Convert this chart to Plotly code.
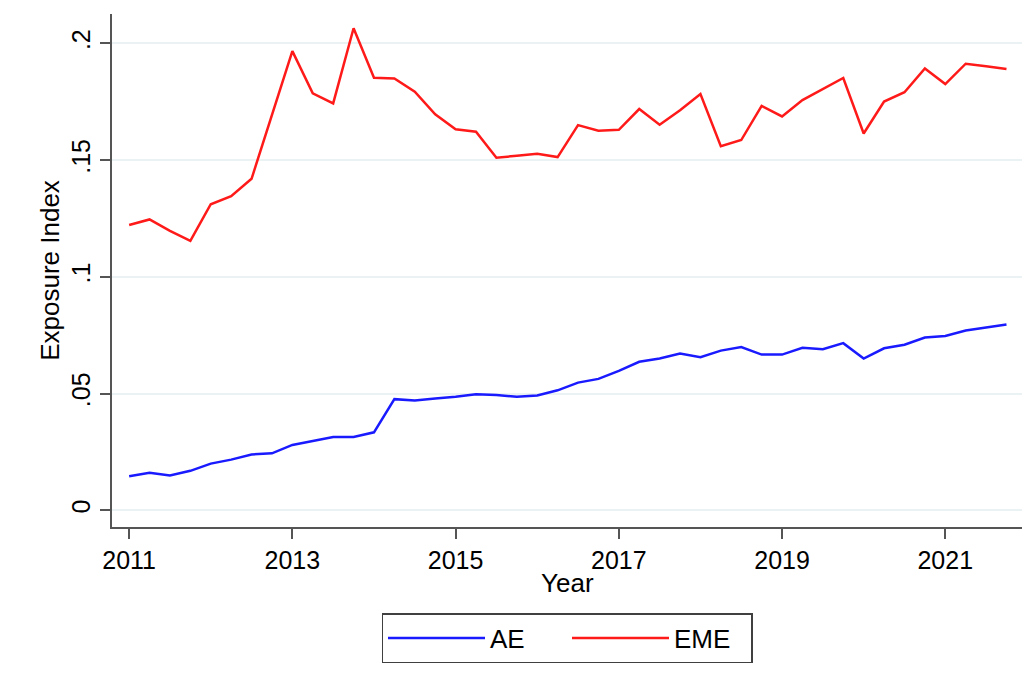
import plotly.graph_objects as go

years = [2011 + q * 0.25 for q in range(44)]

ae = [0.0146, 0.0161, 0.0149, 0.0169, 0.0200, 0.0217, 0.0239, 0.0244,
      0.0280, 0.0297, 0.0314, 0.0314, 0.0334, 0.0476, 0.0470, 0.0479,
      0.0486, 0.0497, 0.0494, 0.0486, 0.0492, 0.0514, 0.0547, 0.0563,
      0.0597, 0.0636, 0.0650, 0.0672, 0.0656, 0.0684, 0.0699, 0.0667,
      0.0667, 0.0696, 0.0690, 0.0716, 0.0650, 0.0694, 0.0709, 0.0740,
      0.0747, 0.0770, 0.0784, 0.0796]

eme = [0.1222, 0.1246, 0.1197, 0.1154, 0.1311, 0.1346, 0.1420, 0.1693,
       0.1967, 0.1786, 0.1743, 0.2065, 0.1853, 0.1850, 0.1793, 0.1696,
       0.1632, 0.1622, 0.1510, 0.1519, 0.1527, 0.1513, 0.1650, 0.1626,
       0.1630, 0.1719, 0.1652, 0.1714, 0.1783, 0.1560, 0.1586, 0.1732,
       0.1687, 0.1757, 0.1803, 0.1852, 0.1614, 0.1751, 0.1791, 0.1893,
       0.1826, 0.1913, 0.1902, 0.1890]

x_ticks = [2011, 2013, 2015, 2017, 2019, 2021]
y_ticks = [0, 0.05, 0.1, 0.15, 0.2]
y_tick_labels = ["0", ".05", ".1", ".15", ".2"]

FONT = "Liberation Sans, Arial, sans-serif"

fig = go.Figure()
fig.add_trace(go.Scatter(x=years, y=ae, mode="lines", name="AE",
                         line=dict(color="#1a1aff", width=2.5)))
fig.add_trace(go.Scatter(x=years, y=eme, mode="lines", name="EME",
                         line=dict(color="#ff1a1a", width=2.5)))

fig.update_layout(
    width=1019, height=673,
    margin=dict(l=104, r=5, t=6, b=154, autoexpand=False),
    paper_bgcolor="white", plot_bgcolor="white",
    font=dict(family=FONT, size=25, color="black"),
    legend=dict(
        orientation="h", x=0.5, xanchor="center", y=-0.168, yanchor="top",
        bordercolor="#404040", borderwidth=1.5, bgcolor="white",
        font=dict(size=26), itemwidth=97,
        entrywidth=72, entrywidthmode="pixels",
    ),
    xaxis=dict(
        range=[2010.79, 2021.94], tickvals=x_ticks,
        ticktext=[str(v) for v in x_ticks],
        showgrid=False, zeroline=False, automargin=False,
        showline=True, linecolor="#555555", linewidth=2,
        ticks="outside", ticklen=10, tickwidth=2, tickcolor="#555555",
        tickfont=dict(size=25),
    ),
    yaxis=dict(
        range=[-0.00716, 0.2126], tickvals=y_ticks, ticktext=y_tick_labels,
        tickangle=-90, automargin=False,
        showgrid=True, gridcolor="#eaf2f3", gridwidth=1.5, zeroline=False,
        showline=True, linecolor="#555555", linewidth=2,
        ticks="outside", ticklen=10, tickwidth=2, tickcolor="#555555",
        tickfont=dict(size=25),
        title=dict(text="Exposure Index", font=dict(size=26), standoff=0),
    ),
    annotations=[dict(text="Year", xref="paper", yref="paper", x=0.5,
                      y=-0.109, xanchor="center", yanchor="middle",
                      showarrow=False, font=dict(size=26))],
)

fig.write_html("out.html")
